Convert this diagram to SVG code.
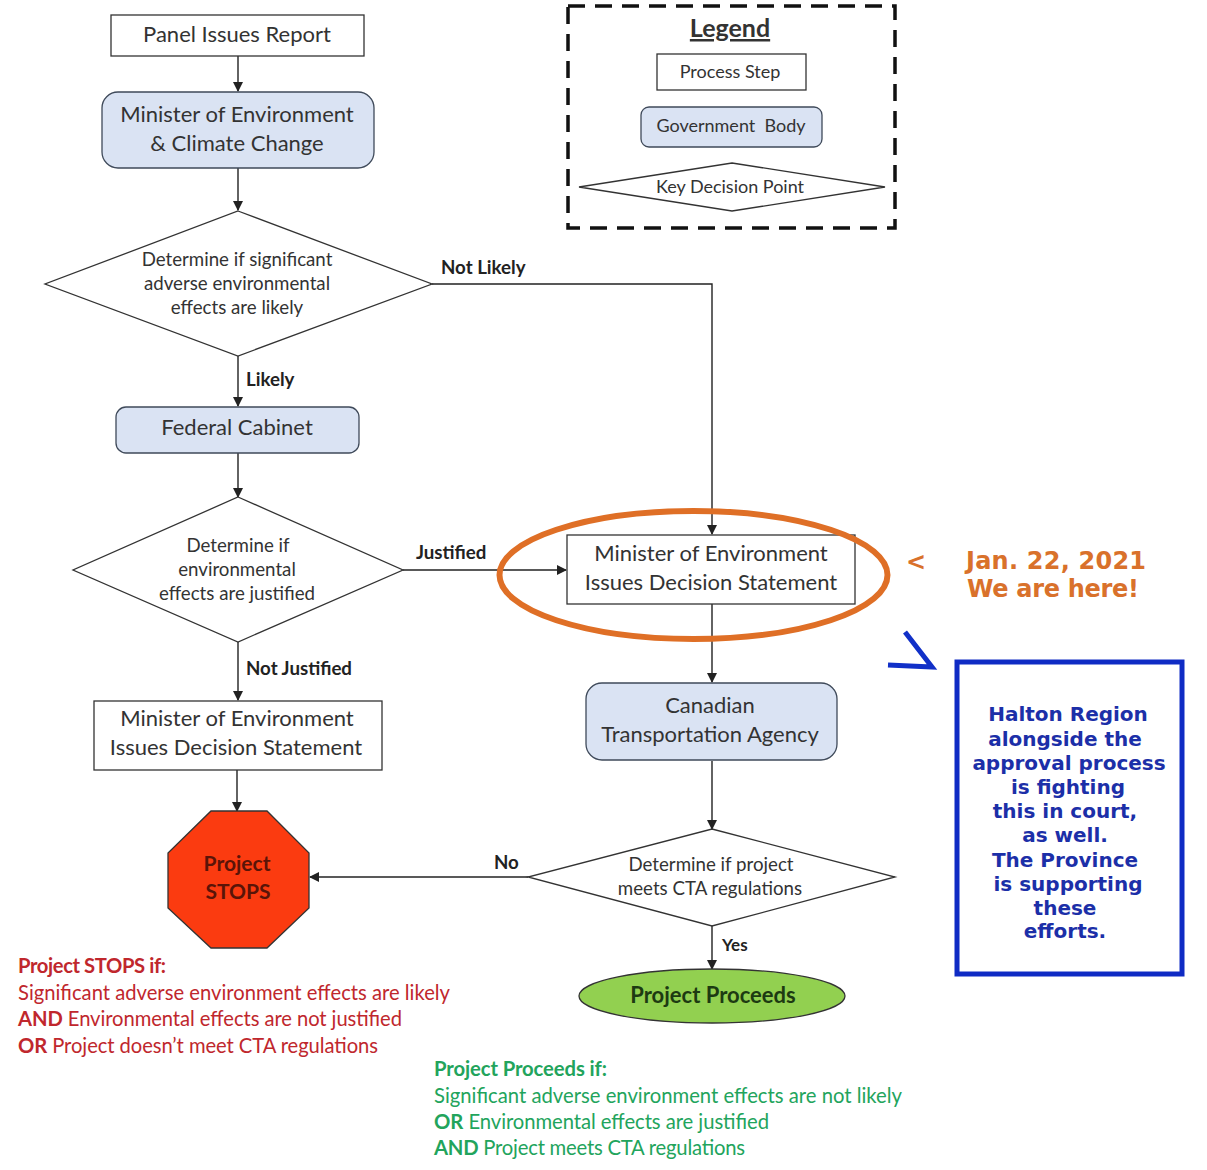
<svg xmlns="http://www.w3.org/2000/svg" width="1207" height="1170" viewBox="0 0 1207 1170">
<style>
text{font-family:Lato,"Liberation Sans",sans-serif;fill:#333;text-anchor:middle}
.box{fill:#fff;stroke:#333;stroke-width:1.3}
.gov{fill:#dae3f3;stroke:#3f4a5a;stroke-width:1.3}
.dec{fill:#fff;stroke:#333;stroke-width:1.3}
.c{fill:none;stroke:#222;stroke-width:1.4;marker-end:url(#a)}
.t23{font-size:22px}.t19{font-size:18.7px}.t18{font-size:18px}
.lab{font-size:18.7px;font-weight:700;fill:#222;text-anchor:start}
.red{font-size:20.2px;fill:#c0272d;text-anchor:start}
.grn{font-size:20.25px;fill:#22a45c;text-anchor:start}
.blue{font-family:"DejaVu Sans",sans-serif;font-size:20px;font-weight:700;fill:#1c2fa8}
.or{font-family:"DejaVu Sans",sans-serif;font-size:24px;font-weight:700;fill:#d9712b;text-anchor:start}
</style>
<defs><marker id="a" markerUnits="userSpaceOnUse" markerWidth="10" markerHeight="10" refX="9" refY="5" orient="auto"><path d="M0 0L10 5L0 10Z" fill="#222"/></marker></defs>
<rect width="1207" height="1170" fill="#fff"/>
<g id="connectors">
<path class="c" d="M238 56V91"/>
<path class="c" d="M238 168V210"/>
<path class="c" d="M238 356V406"/>
<path class="c" d="M238 453V497"/>
<path class="c" d="M238 642V700"/>
<path class="c" d="M237 770V811"/>
<path class="c" d="M432 284H712V534"/>
<path class="c" d="M403 570H566"/>
<path class="c" d="M712 604V682"/>
<path class="c" d="M712 761V829"/>
<path class="c" d="M528 877H310"/>
<path class="c" d="M712 926V969"/>
</g>
<g id="edge-labels">
<text class="lab" x="441" y="274">Not Likely</text>
<text class="lab" x="246" y="386">Likely</text>
<text class="lab" x="416" y="559">Justified</text>
<text class="lab" x="246" y="675">Not Justified</text>
<text class="lab" x="494" y="869">No</text>
<text class="lab" x="722" y="951" style="font-size:17px">Yes</text>
</g>
<g id="panel-report"><rect class="box" x="111" y="15" width="253" height="41"/><text class="t23" x="237" y="42">Panel Issues Report</text></g>
<g id="minister-ecc"><rect class="gov" x="102" y="92" width="272" height="76" rx="16"/><text class="t23" x="237" y="122">Minister of Environment</text><text class="t23" x="237" y="151">&amp; Climate Change</text></g>
<g id="decision-likely"><polygon class="dec" points="238,211 432,284 238,356 45,284"/><text class="t19" x="237" y="266">Determine if significant</text><text class="t19" x="237" y="290">adverse environmental</text><text class="t19" x="237" y="314">effects are likely</text></g>
<g id="federal-cabinet"><rect class="gov" x="116" y="407" width="243" height="46" rx="10"/><text class="t23" x="237" y="435">Federal Cabinet</text></g>
<g id="decision-justified"><polygon class="dec" points="238,497 403,570 238,642 73,570"/><text class="t19" x="238" y="552">Determine if</text><text class="t19" x="237" y="576">environmental</text><text class="t19" x="237" y="600">effects are justified</text></g>
<g id="statement-left"><rect class="box" x="94" y="701" width="288" height="69"/><text class="t23" x="237" y="726">Minister of Environment</text><text class="t23" x="236" y="755">Issues Decision Statement</text></g>
<g id="project-stops"><polygon points="211,811 267,811 309,853 309,908 267,948 211,948 168,908 168,853" fill="#fb3b10" stroke="#333" stroke-width="1.3"/><text x="237" y="871" style="font-size:21px;font-weight:700;fill:#5a1408">Project</text><text x="238" y="899" style="font-size:21px;font-weight:700;fill:#5a1408">STOPS</text></g>
<g id="statement-right"><rect class="box" x="567" y="535" width="288" height="69"/><text class="t23" x="711" y="561">Minister of Environment</text><text class="t23" x="711" y="590">Issues Decision Statement</text></g>
<g id="cta"><rect class="gov" x="586" y="683" width="251" height="77" rx="16"/><text class="t23" x="710" y="713">Canadian</text><text class="t23" x="710" y="742">Transportation Agency</text></g>
<g id="decision-cta"><polygon class="dec" points="712,829 895,877 712,926 528,877"/><text class="t19" x="711" y="871">Determine if project</text><text class="t19" x="710" y="895">meets CTA regulations</text></g>
<g id="project-proceeds"><ellipse cx="712" cy="996" rx="133" ry="27" fill="#92d050" stroke="#333" stroke-width="1.3"/><text x="713" y="1003" style="font-size:22px;font-weight:700;fill:#1d3a12">Project Proceeds</text></g>
<g id="legend"><rect x="568" y="6" width="327" height="222" fill="none" stroke="#111" stroke-width="3.5" stroke-dasharray="17 10"/>
<text x="730" y="37" style="font-size:25px;font-weight:700;text-decoration:underline">Legend</text>
<rect class="box" x="657" y="54" width="149" height="36"/><text class="t18" x="730" y="78">Process Step</text>
<rect class="gov" x="641" y="107" width="181" height="40" rx="8"/><text class="t18" x="731" y="132">Government&#160; Body</text>
<polygon class="dec" points="732,163 885,187 732,211 579,187"/><text class="t18" x="730" y="193">Key Decision Point</text></g>
<g id="stops-note"><text class="red" x="18" y="973" font-weight="700" textLength="148">Project STOPS if:</text><text class="red" x="18" y="1000" textLength="432">Significant adverse environment effects are likely</text><text class="red" x="18" y="1026" textLength="384"><tspan font-weight="700">AND</tspan> Environmental effects are not justified</text><text class="red" x="18" y="1053" textLength="360"><tspan font-weight="700">OR</tspan> Project doesn’t meet CTA regulations</text></g>
<g id="proceeds-note"><text class="grn" x="434" y="1076" font-weight="700" textLength="173">Project Proceeds if:</text><text class="grn" x="434" y="1103" textLength="468">Significant adverse environment effects are not likely</text><text class="grn" x="434" y="1129" textLength="335"><tspan font-weight="700">OR</tspan> Environmental effects are justified</text><text class="grn" x="434" y="1155" textLength="311"><tspan font-weight="700">AND</tspan> Project meets CTA regulations</text></g>
<g id="annotation-orange"><ellipse cx="693.5" cy="575" rx="194" ry="64" fill="none" stroke="#df6f26" stroke-width="6"/>
<text class="or" x="906" y="570">&lt;</text><text class="or" x="966" y="569" textLength="180">Jan. 22, 2021</text><text class="or" x="967" y="597" textLength="172">We are here!</text></g>
<g id="annotation-blue"><path d="M905 632L932 667L888 665" fill="none" stroke="#1130c8" stroke-width="5"/>
<rect x="957" y="662" width="225" height="312" fill="#fff" stroke="#0f2bc4" stroke-width="5"/>
<text class="blue" x="1068" y="721">Halton Region</text><text class="blue" x="1065" y="746">alongside the</text><text class="blue" x="1069" y="770">approval process</text><text class="blue" x="1068" y="794">is fighting</text><text class="blue" x="1065" y="818">this in court,</text><text class="blue" x="1065" y="842">as well.</text><text class="blue" x="1065" y="867">The Province</text><text class="blue" x="1068" y="891">is supporting</text><text class="blue" x="1065" y="915">these</text><text class="blue" x="1065" y="938">efforts.</text></g>
</svg>
